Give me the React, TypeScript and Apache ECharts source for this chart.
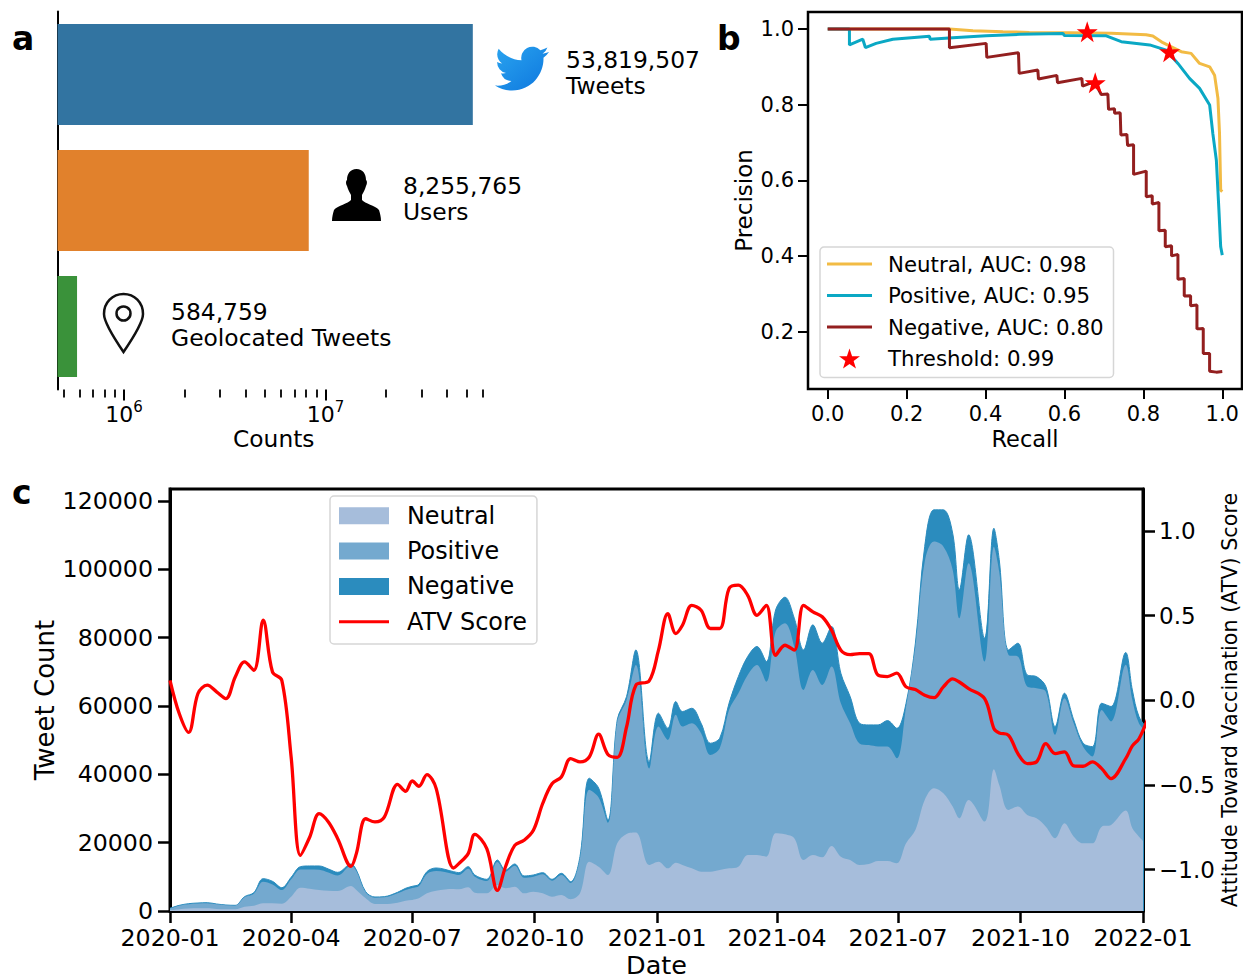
import React, { useEffect, useRef } from "react";
import * as echarts from "echarts";

const FONT = "DejaVu Sans";

// Panel a
const countCategories = ["Tweets", "Users", "Geolocated Tweets"];
const countValues = [53819507, 8255765, 584759];
const countColors = ["#3274a1", "#e1812c", "#3a923a"];
const majorLogTicks = [1e6, 1e7];
const minorLogTicks = [5e5, 6e5, 7e5, 8e5, 9e5, 2e6, 3e6, 4e6, 5e6, 6e6, 7e6, 8e6, 9e6, 2e7, 3e7, 4e7, 5e7, 6e7];

// Panel b: [recall, precision]
const neutralPR = [[0, 1], [0.3085, 1], [0.368, 0.9956], [0.444, 0.993], [0.511, 0.991], [0.613, 0.99], [0.7185, 0.9885], [0.807, 0.985], [0.824, 0.9815], [0.8495, 0.964], [0.871, 0.953], [0.896, 0.94], [0.921, 0.9356], [0.9425, 0.909], [0.968, 0.9], [0.9805, 0.878], [0.989, 0.817], [0.993, 0.724], [0.996, 0.574], [1, 0.57]];
const positivePR = [[0, 1], [0.055, 1], [0.055, 0.958], [0.0888, 0.973], [0.0955, 0.951], [0.1226, 0.962], [0.165, 0.973], [0.258, 0.981], [0.2595, 0.973], [0.317, 0.977], [0.4015, 0.982], [0.486, 0.986], [0.596, 0.988], [0.6, 0.983], [0.706, 0.982], [0.744, 0.9665], [0.816, 0.958], [0.858, 0.944], [0.8875, 0.909], [0.917, 0.8695], [0.9425, 0.843], [0.968, 0.799], [0.976, 0.724], [0.985, 0.653], [0.9915, 0.521], [0.996, 0.424], [1, 0.402]];
const negativePR = [[0, 1], [0.3085, 1], [0.3085, 0.9506], [0.4015, 0.962], [0.4032, 0.925], [0.4835, 0.9374], [0.4852, 0.8827], [0.5325, 0.8915], [0.5342, 0.8677], [0.5807, 0.8774], [0.5824, 0.858], [0.6441, 0.8695], [0.6458, 0.849], [0.6762, 0.8607], [0.6932, 0.827], [0.71, 0.828], [0.7117, 0.7875], [0.727, 0.789], [0.727, 0.777], [0.7413, 0.7787], [0.743, 0.7196], [0.7582, 0.7213], [0.76, 0.692], [0.7752, 0.694], [0.7752, 0.6155], [0.8073, 0.6243], [0.8073, 0.5564], [0.8225, 0.559], [0.8225, 0.537], [0.8394, 0.5414], [0.8394, 0.4665], [0.8555, 0.468], [0.8555, 0.424], [0.8715, 0.427], [0.8715, 0.4], [0.8876, 0.404], [0.8876, 0.338], [0.9036, 0.34], [0.9036, 0.2937], [0.9197, 0.2945], [0.9197, 0.268], [0.9358, 0.27], [0.9358, 0.207], [0.9518, 0.208], [0.9518, 0.142], [0.9679, 0.142], [0.9679, 0.095], [0.9848, 0.0926], [1, 0.0944]];
const thresholdPoints = [[0.6577, 0.993], [0.8665, 0.94], [0.678, 0.858]];
const prTicks = [0, 0.2, 0.4, 0.6, 0.8, 1];
const precisionTicks = [0.2, 0.4, 0.6, 0.8, 1];

// Panel c: samples, by day counted from 2020-01-01
const sampleDays = [
  0, 7, 14, 21, 28, 35, 42, 49, 56, 63,
  70, 77, 84, 91, 98, 105, 112, 119, 126, 136,
  140, 147, 154, 161, 171, 177, 182, 187, 193, 200,
  213, 217, 224, 229, 238, 246, 252, 259, 266, 273,
  280, 287, 294, 301, 308, 315, 322, 329, 336, 343,
  350, 360, 367, 374, 380, 385, 392, 399, 406, 413,
  420, 427, 434, 441, 448, 455, 462, 469, 476, 483,
  490, 497, 504, 511, 518, 525, 532, 539, 546, 553,
  560, 567, 574, 581, 588, 593, 600, 612, 619, 623,
  630, 637, 644, 651, 658, 665, 672, 679, 686, 693,
  700, 707, 718, 723, 728, 735,
];
const totalCounts = [
  800, 1660, 2150, 2340, 2440, 2050, 1760, 1660, 4200, 5370,
  9470, 8690, 6830, 9860, 12980, 13180, 13180, 12300, 11320, 13760,
  12000, 5660, 4100, 4200, 5470, 6640, 7220, 7810, 11520, 12590,
  11520, 11220, 12980, 10540, 9270, 14930, 12000, 13760, 10250, 10540,
  11220, 9270, 11030, 8590, 15900, 38850, 36000, 26640, 55900, 62750,
  76400, 43700, 57900, 53480, 61300, 58360, 59340, 54950, 49090, 50560,
  60800, 68600, 74470, 77400, 73000, 88100, 91840, 85700, 76400, 83740,
  78370, 83250, 69590, 62750, 54950, 54460, 54460, 55730, 53480, 60800,
  78370, 106680, 117400, 117400, 110580, 93990, 110090, 79800, 112000, 102800,
  76400, 78370, 69100, 68600, 65700, 53970, 63730, 55900, 49090, 48100,
  60800, 59830, 75640, 64700, 56900, 53000,
];
const neutralCounts = [
  200, 500, 700, 800, 800, 600, 500, 500, 1270, 1560,
  2240, 2240, 2150, 4200, 6830, 6540, 6150, 5950, 5860, 7320,
  6150, 3700, 2050, 2050, 2440, 3030, 3220, 3700, 5170, 5950,
  6440, 6340, 6930, 5370, 5170, 7610, 6640, 7120, 5170, 5660,
  5170, 4200, 4680, 3420, 5170, 14440, 12980, 10540, 19800, 22550,
  22940, 13470, 14440, 12490, 14150, 13470, 12490, 11520, 11520, 12000,
  12490, 12980, 16400, 16400, 15900, 22740, 22450, 21280, 14930, 16400,
  15700, 19030, 15900, 14930, 13470, 13760, 14640, 14640, 13960, 19810,
  23700, 32500, 35920, 34450, 30550, 27130, 32500, 26160, 41480, 36900,
  29570, 30550, 28100, 27130, 24690, 21280, 25670, 21760, 19810, 19810,
  24690, 25180, 29380, 24200, 21760, 18800,
];
const negativeCounts = [
  100, 100, 150, 150, 150, 100, 100, 100, 200, 300,
  900, 900, 700, 600, 800, 1000, 1100, 1000, 900, 500,
  300, 200, 200, 200, 300, 500, 500, 500, 700, 900,
  700, 700, 600, 500, 500, 600, 500, 500, 500, 500,
  500, 400, 500, 400, 600, 3400, 2800, 800, 600, 1000,
  4400, 2000, 3900, 3400, 3900, 4400, 4400, 2900, 3400, 2900,
  2000, 4900, 5400, 5400, 5900, 6300, 7600, 8300, 11700, 13200,
  12200, 11700, 8800, 7800, 5900, 5900, 6300, 7600, 8800, 1000,
  1000, 4500, 9300, 10700, 10700, 8300, 8300, 6800, 5400, 3500,
  1500, 3900, 3400, 3400, 1500, 2400, 1500, 1000, 1000, 2900,
  2000, 4400, 3600, 2900, 2000, 1000,
];
const atvScores = [
  0.118, -0.08, -0.19, 0.04, 0.089, 0.05, 0.01, 0.138, 0.227, 0.177,
  0.473, 0.167, 0.118, -0.335, -0.916, -0.808, -0.67, -0.719, -0.818, -0.981,
  -0.906, -0.7, -0.719, -0.69, -0.497, -0.538, -0.477, -0.508, -0.439, -0.522,
  -0.991, -0.965, -0.906, -0.792, -0.877, -1.123, -0.985, -0.857, -0.827, -0.768,
  -0.61, -0.493, -0.453, -0.345, -0.364, -0.335, -0.2, -0.32, -0.337, -0.158,
  0.089, 0.114, 0.296, 0.512, 0.394, 0.443, 0.561, 0.532, 0.424, 0.424,
  0.66, 0.68, 0.62, 0.502, 0.561, 0.266, 0.325, 0.296, 0.561, 0.522,
  0.493, 0.414, 0.296, 0.27, 0.276, 0.276, 0.148, 0.14, 0.16, 0.079,
  0.063, 0.03, 0.016, 0.079, 0.126, 0.108, 0.069, 0.01, -0.167, -0.193,
  -0.207, -0.315, -0.374, -0.364, -0.256, -0.315, -0.305, -0.388, -0.39, -0.364,
  -0.404, -0.463, -0.345, -0.27, -0.227, -0.1,
];
const quarterTicks = ["2020-01", "2020-04", "2020-07", "2020-10", "2021-01", "2021-04", "2021-07", "2021-10", "2022-01"];
const tweetTicks = [0, 20000, 40000, 60000, 80000, 100000, 120000];
const atvTicks = [-1, -0.5, 0, 0.5, 1];

const DAY = 86400000;
const START = Date.UTC(2020, 0, 1);
const sampleDates = sampleDays.map((d) => START + d * DAY);
const monthMs = (s: string) => Date.UTC(+s.slice(0, 4), +s.slice(5) - 1, 1);
const positiveTop = totalCounts.map((t, i) => t - negativeCounts[i]);
const pairs = (ys: number[]) => ys.map((y, i) => [sampleDates[i], y]);

const TWITTER = "M23.953 4.57a10 10 0 0 1-2.825.775 4.958 4.958 0 0 0 2.163-2.723c-.951.555-2.005.959-3.127 1.184a4.92 4.92 0 0 0-8.384 4.482C7.69 8.095 4.067 6.13 1.64 3.162a4.822 4.822 0 0 0-.666 2.475c0 1.71.87 3.213 2.188 4.096a4.904 4.904 0 0 1-2.228-.616v.06a4.923 4.923 0 0 0 3.946 4.827 4.996 4.996 0 0 1-2.212.085 4.936 4.936 0 0 0 4.604 3.417 9.867 9.867 0 0 1-6.102 2.105c-.39 0-.779-.023-1.17-.067a13.995 13.995 0 0 0 7.557 2.209c9.053 0 13.998-7.496 13.998-13.985 0-.21 0-.42-.015-.63A9.935 9.935 0 0 0 24 4.59z";
const PERSON = "M24.5 0C31 0 34 5 34 11C35.5 12 35 15.5 34 17C33 21 31 24 30 26L30 31C33 35 43 36 47 41C48 44 49 48 49 52L0 52C0 48 1 44 2 41C6 36 16 35 19 31L19 26C18 24 16 21 15 17C14 15.5 13.5 12 15 11C15 5 18 0 24.5 0Z";
const PIN = "M19.5 0C30.5 0 39 8.5 39 20C39 29 27 47 19.5 58C12 47 0 29 0 20C0 8.5 8.5 0 19.5 0Z";
const STAR = "path://M50 0L61.8 35.1H97.6L68.8 56.7L79.4 91L50 70L20.6 91L31.2 56.7L2.4 35.1H38.2Z";
echarts.graphic.registerShape("twitterBird", echarts.graphic.extendPath(TWITTER, {}) as any);
echarts.graphic.registerShape("personIcon", echarts.graphic.extendPath(PERSON, {}) as any);
echarts.graphic.registerShape("pinIcon", echarts.graphic.extendPath(PIN, {}) as any);

const tickLine = (w: number, l: number, extra: any = {}) => ({ show: true, length: l, lineStyle: { color: "#000", width: w }, ...extra });
const txt = (text: string, x: number, y: number, size: number, extra: any = {}) => ({
  type: "text", x, y, z: 20,
  style: { text, fill: "#000", font: `${size}px "${FONT}"`, verticalAlign: "middle", ...extra },
});

export default function App() {
  const ref = useRef<HTMLDivElement>(null);
  useEffect(() => {
    const chart = echarts.init(ref.current!, undefined, { renderer: "svg" });
    chart.setOption({
      animation: false,
      backgroundColor: "#fff",
      textStyle: { fontFamily: FONT },
      grid: [
        { left: 57.5, top: 11.5, width: 432.5, height: 378, outerBoundsMode: "none" },
        { left: 808, top: 12, width: 434, height: 377, show: true, borderColor: "#000", borderWidth: 2.5, backgroundColor: "transparent", outerBoundsMode: "none" },
        { left: 170, top: 489, width: 973, height: 422, show: true, borderColor: "#000", borderWidth: 3, backgroundColor: "transparent", outerBoundsMode: "none" },
      ],
      xAxis: [
        {
          type: "log", gridIndex: 0, position: "bottom", min: 467700, max: 65500000, logBase: 10,
          splitLine: { show: false }, minorTick: { show: false }, minorSplitLine: { show: false },
          axisLine: { show: false, onZero: false },
          axisTick: tickLine(2, 11, { customValues: majorLogTicks }),
          axisLabel: {
            customValues: majorLogTicks, margin: 10, color: "#000",
            formatter: (v: number) => `{b|10}{s|${Math.round(Math.log10(v))}}`,
            rich: {
              b: { fontSize: 22, fontFamily: FONT, color: "#000", lineHeight: 26, verticalAlign: "bottom" },
              s: { fontSize: 15, fontFamily: FONT, color: "#000", lineHeight: 26, verticalAlign: "top" },
            },
          },
          name: "Counts", nameLocation: "middle", nameGap: 37, nameMoveOverlap: false,
          nameTextStyle: { fontSize: 23.3, fontFamily: FONT, color: "#000" },
        },
        {
          type: "log", gridIndex: 0, position: "bottom", min: 467700, max: 65500000, logBase: 10,
          splitLine: { show: false }, minorTick: { show: false },
          axisLine: { show: false, onZero: false },
          axisTick: tickLine(1.8, 8, { customValues: minorLogTicks }),
          axisLabel: { show: false },
        },
        {
          type: "value", gridIndex: 1, min: -0.05, max: 1.05, splitLine: { show: false },
          axisLine: { show: false, onZero: false },
          axisTick: tickLine(2, 10, { customValues: prTicks }),
          axisLabel: { customValues: prTicks, fontSize: 21, fontFamily: FONT, color: "#000", margin: 14, formatter: (v: number) => v.toFixed(1) },
          name: "Recall", nameLocation: "middle", nameGap: 38, nameMoveOverlap: false,
          nameTextStyle: { fontSize: 22.5, fontFamily: FONT, color: "#000" },
        },
        {
          type: "value", gridIndex: 2, min: START, max: monthMs("2022-01"), splitLine: { show: false },
          axisLine: { show: true, onZero: false, lineStyle: { color: "#000", width: 3 } },
          axisTick: tickLine(2.5, 12, { customValues: quarterTicks.map(monthMs) }),
          axisLabel: {
            customValues: quarterTicks.map(monthMs), fontSize: 23.7, fontFamily: FONT, color: "#000", margin: 15, hideOverlap: false,
            formatter: (v: number) => { const d = new Date(v); return `${d.getUTCFullYear()}-${String(d.getUTCMonth() + 1).padStart(2, "0")}`; },
          },
          name: "Date", nameLocation: "middle", nameGap: 41, nameMoveOverlap: false,
          nameTextStyle: { fontSize: 25.5, fontFamily: FONT, color: "#000" },
        },
      ],
      yAxis: [
        {
          type: "category", gridIndex: 0, data: countCategories, inverse: true,
          axisTick: { show: false }, axisLabel: { show: false },
          axisLine: { show: true, onZero: false, lineStyle: { color: "#000", width: 2 } },
        },
        {
          type: "value", gridIndex: 1, min: 0.048, max: 1.045, splitLine: { show: false },
          axisLine: { show: false, onZero: false },
          axisTick: tickLine(2, 10, { customValues: precisionTicks }),
          axisLabel: { customValues: precisionTicks, fontSize: 21, fontFamily: FONT, color: "#000", margin: 14, formatter: (v: number) => v.toFixed(1) },
          name: "Precision", nameLocation: "middle", nameGap: 53, nameMoveOverlap: false,
          nameTextStyle: { fontSize: 23, fontFamily: FONT, color: "#000" },
        },
        {
          type: "value", gridIndex: 2, min: 0, max: 123500, splitLine: { show: false },
          axisLine: { show: true, onZero: false, lineStyle: { color: "#000", width: 3 } },
          axisTick: tickLine(2.5, 12, { customValues: tweetTicks }),
          axisLabel: { customValues: tweetTicks, fontSize: 23.7, fontFamily: FONT, color: "#000", margin: 17, formatter: (v: number) => String(v) },
          name: "Tweet Count", nameLocation: "middle", nameGap: 112, nameMoveOverlap: false,
          nameTextStyle: { fontSize: 26, fontFamily: FONT, color: "#000" },
        },
        {
          type: "value", gridIndex: 2, position: "right", min: -1.245, max: 1.248, splitLine: { show: false },
          axisLine: { show: true, onZero: false, lineStyle: { color: "#000", width: 3 } },
          axisTick: tickLine(2.5, 12, { customValues: atvTicks }),
          axisLabel: {
            customValues: atvTicks, fontSize: 23, fontFamily: FONT, color: "#000", margin: 16,
            formatter: (v: number) => (v < 0 ? "\u2212" : "") + Math.abs(v).toFixed(1),
          },
          name: "Attitude Toward Vaccination (ATV) Score", nameLocation: "middle", nameRotate: 90, nameGap: 76, nameMoveOverlap: false,
          nameTextStyle: { fontSize: 20.7, fontFamily: FONT, color: "#000" },
        },
      ],
      legend: [
        {
          left: 820, top: 247, orient: "vertical", selectedMode: false, itemWidth: 45, itemHeight: 20, itemGap: 10.5,
          padding: [6.5, 10, 8.5, 7], backgroundColor: "#fff", borderColor: "#d6d6d6", borderWidth: 1.5, borderRadius: 4,
          textStyle: { fontSize: 21.3, fontFamily: FONT, color: "#000", padding: [0, 0, 0, 11] }, z: 10,
          data: [
            { name: "Neutral, AUC: 0.98", icon: "path://M0 0H45V3H0Z" }, { name: "Positive, AUC: 0.95", icon: "path://M0 0H45V3H0Z" }, { name: "Negative, AUC: 0.80", icon: "path://M0 0H45V3H0Z" },
            { name: "Threshold: 0.99", icon: STAR },
          ],
        },
        {
          left: 330, top: 496, orient: "vertical", selectedMode: false, itemWidth: 50, itemHeight: 17, itemGap: 11.3,
          padding: [7.8, 10, 10.2, 9], backgroundColor: "#fff", borderColor: "#d6d6d6", borderWidth: 1.5, borderRadius: 4,
          textStyle: { fontSize: 23.9, fontFamily: FONT, color: "#000", padding: [0, 0, 0, 13] }, z: 10,
          data: [
            { name: "Neutral", icon: "rect" }, { name: "Positive", icon: "rect" }, { name: "Negative", icon: "rect" }, { name: "ATV Score", icon: "path://M0 0H50V3H0Z" },
          ],
        },
      ],
      series: [
        {
          type: "bar", xAxisIndex: 0, yAxisIndex: 0, barWidth: "80%",
          data: countValues.map((v, i) => ({ value: v, itemStyle: { color: countColors[i] } })),
        },
        { name: "Neutral, AUC: 0.98", type: "line", xAxisIndex: 2, yAxisIndex: 1, symbol: "none", data: neutralPR, lineStyle: { color: "#f2bb44", width: 3 }, itemStyle: { color: "#f2bb44" } },
        { name: "Positive, AUC: 0.95", type: "line", xAxisIndex: 2, yAxisIndex: 1, symbol: "none", data: positivePR, lineStyle: { color: "#0aa8c4", width: 3 }, itemStyle: { color: "#0aa8c4" } },
        { name: "Negative, AUC: 0.80", type: "line", xAxisIndex: 2, yAxisIndex: 1, symbol: "none", data: negativePR, lineStyle: { color: "#931f1f", width: 3 }, itemStyle: { color: "#931f1f" } },
        { name: "Threshold: 0.99", type: "scatter", xAxisIndex: 2, yAxisIndex: 1, symbol: STAR, symbolSize: 21, data: thresholdPoints, itemStyle: { color: "#ff0000", opacity: 1 }, z: 5 },
        {
          name: "Negative", type: "line", xAxisIndex: 3, yAxisIndex: 2, symbol: "none", smooth: 0.35, z: 1,
          data: pairs(totalCounts), lineStyle: { width: 1, color: "#2b8cbe" }, areaStyle: { color: "#2b8cbe", opacity: 1 }, itemStyle: { color: "#2b8cbe" },
        },
        {
          name: "Positive", type: "line", xAxisIndex: 3, yAxisIndex: 2, symbol: "none", smooth: 0.35, z: 2,
          data: pairs(positiveTop), lineStyle: { width: 0 }, areaStyle: { color: "#74a9cf", opacity: 1 }, itemStyle: { color: "#74a9cf" },
        },
        {
          name: "Neutral", type: "line", xAxisIndex: 3, yAxisIndex: 2, symbol: "none", smooth: 0.35, z: 3,
          data: pairs(neutralCounts), lineStyle: { width: 0 }, areaStyle: { color: "#a6bddb", opacity: 1 }, itemStyle: { color: "#a6bddb" },
        },
        {
          name: "ATV Score", type: "line", xAxisIndex: 3, yAxisIndex: 3, symbol: "none", smooth: 0.35, z: 4,
          data: pairs(atvScores), lineStyle: { width: 3.3, color: "#ff0000" }, itemStyle: { color: "#ff0000" },
        },
      ],
      graphic: [
        {
          type: "twitterBird", x: 495, y: 41.6, scaleX: 2.25, scaleY: 2.25, z: 20,
          style: { fill: { type: "linear", x: 0, y: 0, x2: 1, y2: 1, colorStops: [{ offset: 0, color: "#2aa4ef" }, { offset: 1, color: "#0d76de" }] } },
        },
        { type: "personIcon", x: 332, y: 169, z: 20, style: { fill: "#000" } },
        { type: "pinIcon", x: 104, y: 294, z: 20, style: { fill: "none", stroke: "#111", lineWidth: 2.5 } },
        { type: "circle", x: 123.5, y: 313.5, z: 20, shape: { r: 7 }, style: { fill: "none", stroke: "#111", lineWidth: 2.5 } },
        txt(countValues[0].toLocaleString("en-US"), 566, 60, 23.4),
        txt(countCategories[0], 566, 86, 23.4),
        txt(countValues[1].toLocaleString("en-US"), 403, 186, 23.4),
        txt(countCategories[1], 403, 212, 23.4),
        txt(countValues[2].toLocaleString("en-US"), 171, 312, 23.4),
        txt(countCategories[2], 171, 338, 23.4),
        txt("a", 12, 38, 33, { font: `bold 33px "${FONT}"` }),
        txt("b", 717, 38, 33, { font: `bold 33px "${FONT}"` }),
        txt("c", 12, 492, 33, { font: `bold 33px "${FONT}"` }),
      ],
    });
    return () => chart.dispose();
  }, []);
  return <div ref={ref} style={{ position: "fixed", left: 0, top: 0, width: 1243, height: 979, background: "#fff" }} />;
}
